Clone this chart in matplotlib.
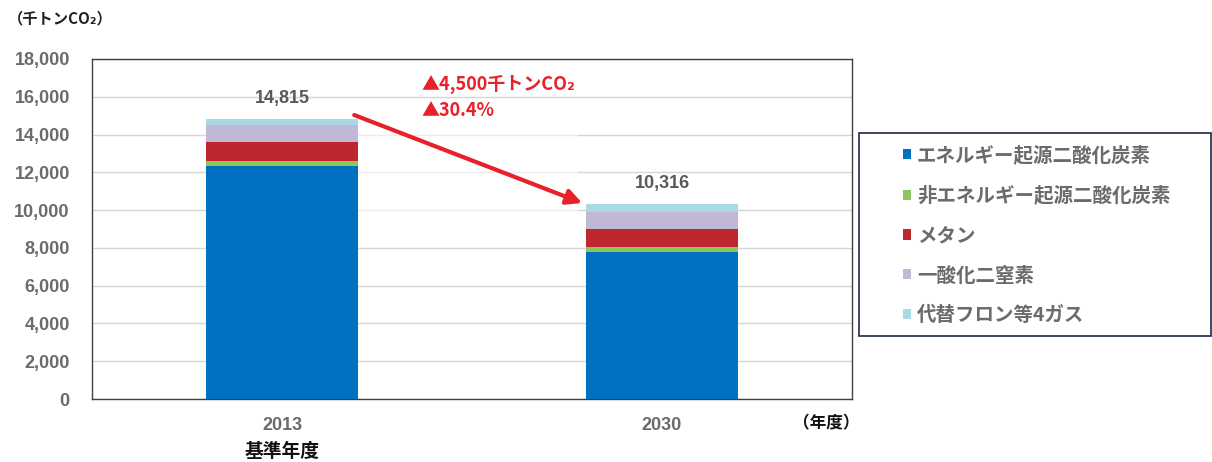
import matplotlib
matplotlib.use("Agg")
import matplotlib.pyplot as plt
from matplotlib.patches import Rectangle, Patch
import numpy as np

plt.rcParams['font.family'] = ['Noto Sans CJK JP', 'DejaVu Sans']
NUMFONT = ['Liberation Sans', 'DejaVu Sans']

# ---- data ----
years = ["2013", "2030"]
energy_co2 = [12340, 7790]
nonenergy_co2 = [250, 270]
methane = [1020, 930]
n2o = [900, 890]
fgas = [305, 436]
totals = [14815, 10316]
total_labels = ["14,815", "10,316"]
series_names = ["エネルギー起源二酸化炭素", "非エネルギー起源二酸化炭素", "メタン", "一酸化二窒素", "代替フロン等4ガス"]
yticks = [0, 2000, 4000, 6000, 8000, 10000, 12000, 14000, 16000, 18000]
reduction_text = "▲4,500千トンCO₂"
reduction_pct = "▲30.4%"

colors = ["#0070C0", "#8DC65A", "#BE272D", "#C0B8D4", "#A8DAE3"]
series = [energy_co2, nonenergy_co2, methane, n2o, fgas]

W, H = 1212, 462
fig = plt.figure(figsize=(W / 100, H / 100), dpi=100)
ax = fig.add_axes([92 / W, 1 - 399 / H, (852 - 92) / W, (399 - 59) / H])

x = np.arange(len(years))
width = 0.4
bottom = np.zeros(len(years))
for vals, c, name in zip(series, colors, series_names):
    ax.bar(x, vals, width, bottom=bottom, color=c, label=name, zorder=3, linewidth=0)
    bottom += np.array(vals)

ax.set_xlim(-0.5, 1.5)
ax.set_ylim(0, 18000)
ax.set_yticks(yticks)
ax.set_yticklabels([f"{v:,}" for v in yticks], fontsize=13, color="#6b6b6b",
                   fontweight="bold", family=NUMFONT)
ax.set_xticks(x)
ax.set_xticklabels(years, fontsize=13, color="#6b6b6b", fontweight="bold", family=NUMFONT)
ax.tick_params(axis="both", length=0)
ax.tick_params(axis="y", pad=16)
ax.tick_params(axis="x", pad=13)
ax.grid(axis="y", color="#d6d6d6", linewidth=1, zorder=0)
for s in ax.spines.values():
    s.set_color("#404040")
    s.set_linewidth(1)

# faded haze behind arrow
ax.add_patch(Rectangle((width / 2, 9500), 1 - width - 0.02, 5000, facecolor="white",
                       alpha=0.55, edgecolor="none", zorder=2))

# value labels
for xi, t, lab in zip(x, totals, total_labels):
    ax.text(xi, t + 650, lab, ha="center", va="bottom", fontsize=13,
            color="#595959", fontweight="bold", family=NUMFONT, zorder=5)

# arrow
ax.annotate("", xy=(1 - width / 2 - 0.01, totals[1] + 60),
            xytext=(width / 2 - 0.01, totals[0] + 220),
            arrowprops=dict(arrowstyle="-|>,head_length=0.9,head_width=0.45",
                            color="#E8202A", lw=3, shrinkA=0, shrinkB=0), zorder=6)

ax.text(0.368, 16680, reduction_text, ha="left", va="center", fontsize=13,
        color="#E8202A", fontweight="bold", zorder=6)
ax.text(0.368, 15300, reduction_pct, ha="left", va="center", fontsize=13,
        color="#E8202A", fontweight="bold", zorder=6)

# axis unit labels
fig.text(8 / W, 1 - 18 / H, "（千トンCO₂）", ha="left", va="center", fontsize=11,
         fontweight="bold", color="#222222")
fig.text(282 / W, 1 - 451 / H, "基準年度", ha="center", va="center", fontsize=13.5,
         fontweight="bold", color="#111111")
fig.text(826 / W, 1 - 423 / H, "（年度）", ha="center", va="center", fontsize=12,
         fontweight="bold", color="#111111")

# legend frame and legend
fig.patches.append(Rectangle((859 / W, 1 - 336 / H), (1211 - 859) / W, (336 - 133) / H,
                             transform=fig.transFigure, facecolor="white",
                             edgecolor="#1f2a4a", linewidth=1.2, zorder=1))
handles = [Patch(facecolor=c, edgecolor="none") for c in colors]
leg = fig.legend(handles, series_names, loc="upper left",
                 bbox_to_anchor=(903 / W, 1 - 145.3 / H), frameon=False,
                 fontsize=14, handlelength=0.42, handleheight=0.42, handletextpad=0.3,
                 labelspacing=1.07, borderpad=0, borderaxespad=0)
for t in leg.get_texts():
    t.set_color("#6b6b6b")
    t.set_fontweight("bold")
leg.set_zorder(3)

fig.savefig("out.png", dpi=100)
